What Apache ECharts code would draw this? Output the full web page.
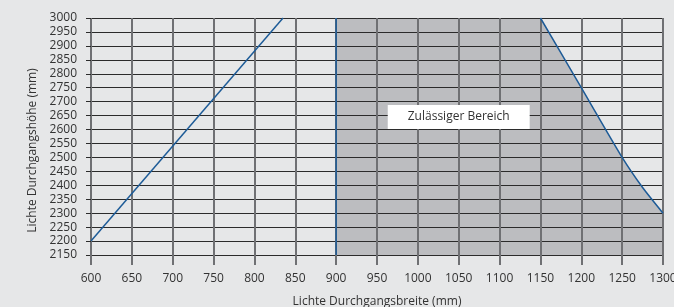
<!DOCTYPE html>
<html>
<head>
<meta charset="utf-8">
<script src="https://cdn.jsdelivr.net/npm/echarts@6/dist/echarts.min.js"></script>
<style>
  html, body { margin: 0; padding: 0; background: #e6e7e8; }
  #chart { width: 674px; height: 307px; }
</style>
</head>
<body>
<div id="chart"></div>
<script>
// Achsen
const xRange = [600, 1300];
const yRange = [2150, 3000];
const step = 50;

// Linke Grenzlinie (Breite, Höhe)
const leftLine = [[600, 2200], [835, 3000]];
// Senkrechte Linie bei 900 mm
const minWidthLine = [[900, 2150], [900, 3000]];
// Rechte Grenzlinie
const rightLine = [[1150, 3000], [1200, 2750], [1250, 2500], [1275, 2392], [1300, 2300]];
// Zulässiger Bereich (obere Kante)
const allowedTop = [[900, 3000], [1150, 3000], [1200, 2750], [1250, 2500], [1275, 2392], [1300, 2300]];
const areaLabel = "Zulässiger Bereich";
const areaLabelPos = [1050, 2645];

const blue = "#1d5b97";
const font = "'Open Sans', sans-serif";

const chart = echarts.init(document.getElementById("chart"));

chart.setOption({
  backgroundColor: "#e6e7e8",
  animation: false,
  grid: { left: 91, right: 11, top: 18, bottom: 52, containLabel: false, outerBoundsMode: "none" },
  xAxis: {
    type: "value",
    min: xRange[0],
    max: xRange[1],
    interval: step,
    z: 3,
    name: "Lichte Durchgangsbreite (mm)",
    nameLocation: "middle",
    nameGap: 41,
    nameTextStyle: { color: "#333", fontSize: 12, fontFamily: font },
    axisLine: { show: false },
    axisTick: { show: true, length: 10, lineStyle: { color: "#6f7073", width: 2 } },
    axisLabel: { color: "#333", fontSize: 12, fontFamily: font, margin: 18, formatter: (v) => String(v) },
    splitLine: { show: true, lineStyle: { color: "#6f7073", width: 2 } },
  },
  yAxis: {
    type: "value",
    min: yRange[0],
    max: yRange[1],
    interval: step,
    z: 3,
    name: "Lichte Durchgangshöhe (mm)",
    nameLocation: "middle",
    nameGap: 43,
    nameTextStyle: { color: "#333", fontSize: 12, fontFamily: font, padding: [0, 28, 0, 0] },
    axisLine: { show: false },
    axisTick: { show: true, length: 5, lineStyle: { color: "#2b2b2b", width: 1 } },
    axisLabel: { color: "#333", fontSize: 12, fontFamily: font, margin: 14, formatter: (v) => String(v) },
    splitLine: { show: true, lineStyle: { color: "#2b2b2b", width: 1 } },
  },
  series: [
    {
      type: "line",
      z: 1,
      data: allowedTop,
      symbol: "none",
      lineStyle: { width: 0 },
      areaStyle: { color: "#bcbdc0", opacity: 1, origin: "start" },
      silent: true,
    },
    {
      type: "line",
      z: 5,
      data: leftLine,
      symbol: "none",
      lineStyle: { color: blue, width: 1.5 },
    },
    {
      type: "line",
      z: 5,
      data: minWidthLine,
      symbol: "none",
      lineStyle: { color: blue, width: 1.5 },
    },
    {
      type: "line",
      z: 5,
      data: rightLine,
      symbol: "none",
      smooth: 0.2,
      lineStyle: { color: blue, width: 1.5 },
      markPoint: {
        symbol: "rect",
        symbolSize: 0,
        data: [{ coord: areaLabelPos }],
        label: {
          show: true,
          position: "inside",
          formatter: areaLabel,
          color: "#333",
          fontSize: 12,
          fontFamily: font,
          backgroundColor: "#ffffff",
          padding: [6, 20],
        },
      },
    },
  ],
});
</script>
</body>
</html>
